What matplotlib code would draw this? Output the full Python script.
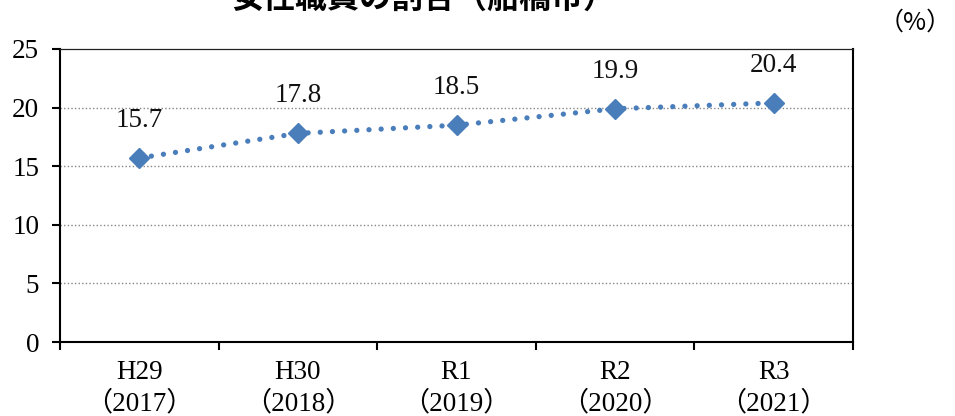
import matplotlib
matplotlib.use("Agg")
import matplotlib.pyplot as plt

# data
categories = ["H29\n（2017）", "H30\n（2018）", "R1\n（2019）", "R2\n（2020）", "R3\n（2021）"]
values = [15.7, 17.8, 18.5, 19.9, 20.4]
labels = ["15.7", "17.8", "18.5", "19.9", "20.4"]
yticks = [0, 5, 10, 15, 20, 25]
title = "女性職員の割合（船橋市）"
unit = "（%）"

color = "#4A7EBB"
serif = ["Liberation Serif", "Noto Sans CJK JP"]
cjk = ["Noto Sans CJK JP", "DejaVu Sans"]
fs = 19.5

fig = plt.figure(figsize=(9.55, 4.16), dpi=100)
ax = fig.add_axes([60 / 955, 74 / 416, 793 / 955, 293 / 416])

x = list(range(len(values)))
ax.plot(x, values, color=color, lw=3.8, dashes=(0.01, 2.3),
        dash_capstyle="round", zorder=3)
ax.plot(x, values, linestyle="none", marker="D", markersize=10.5,
        color=color, zorder=4)

for xi, v, lab in zip(x, values, labels):
    ax.annotate(lab, (xi, v), xytext=(0, 27), textcoords="offset points",
                ha="center", va="center", fontsize=fs, family=serif,
                color="#111111")

ax.set_xlim(-0.5, len(values) - 0.5)
ax.set_ylim(0, 25)
ax.set_yticks(yticks)
ax.set_yticklabels([str(t) for t in yticks], family=serif, fontsize=fs)

ax.set_xticks([i - 0.5 for i in range(len(values) + 1)])
ax.set_xticklabels([])
ax.set_xticks(x, minor=True)
ax.set_xticklabels(categories, minor=True, family=serif, fontsize=fs,
                   linespacing=1.3)
ax.tick_params(axis="x", which="minor", length=0, pad=13)
ax.tick_params(axis="x", which="major", length=6, width=1.5, direction="out")
ax.tick_params(axis="y", length=6, width=1.5, direction="out", pad=9)

for t in [5, 10, 15, 20]:
    ax.axhline(t, color="#868686", lw=1.0, linestyle=(0, (1, 1.6)), zorder=1)

for side in ["left", "bottom", "right"]:
    ax.spines[side].set_linewidth(1.5)
    ax.spines[side].set_color("black")
ax.spines["top"].set_linewidth(0.9)
ax.spines["top"].set_color("#222222")

fig.text(424 / 955, 1 + 1 / 416, title, ha="center", va="center",
         fontsize=23, fontweight="bold", family=cjk)
fig.text(952 / 955, 1 - 23 / 416, unit, ha="right", va="center",
         fontsize=18, family=cjk)

fig.savefig("out.png", dpi=100)
